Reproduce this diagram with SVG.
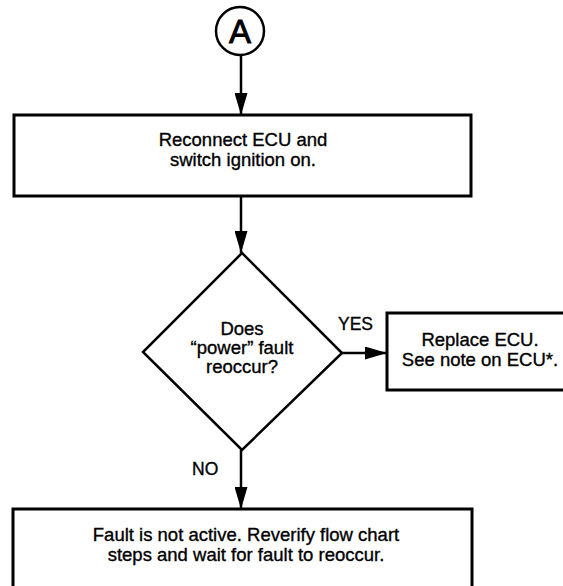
<svg xmlns="http://www.w3.org/2000/svg" width="563" height="586" viewBox="0 0 563 586">
<style>
.box{fill:#fff;stroke:#000;stroke-width:3}
.dia{fill:#fff;stroke:#000;stroke-width:2.5}
.t{font-family:"Liberation Sans",Arial,sans-serif;font-size:18.5px;fill:#000;stroke:#000;stroke-width:0.35;text-anchor:middle}
.lbl{font-family:"Liberation Sans",Arial,sans-serif;font-size:17.5px;fill:#000;stroke:#000;stroke-width:0.35}
.ln{stroke:#000;stroke-width:2.5;fill:none}
</style>
<defs>
<marker id="ah" viewBox="0 0 10 10" refX="10" refY="5" markerWidth="22" markerHeight="13" markerUnits="userSpaceOnUse" orient="auto" preserveAspectRatio="none">
<path d="M0,0 L10,5 L0,10 Z" fill="#000"/>
</marker>
</defs>
<rect width="563" height="586" fill="#fff"/>
<g id="connectors">
<line class="ln" x1="241" y1="55" x2="241" y2="115" marker-end="url(#ah)"/>
<line class="ln" x1="241" y1="196" x2="241" y2="253" marker-end="url(#ah)"/>
<line class="ln" x1="342" y1="353" x2="387" y2="353" marker-end="url(#ah)"/>
<line class="ln" x1="241" y1="450" x2="241" y2="509" marker-end="url(#ah)"/>
</g>
<g id="start">
<circle cx="240" cy="31" r="24" fill="#fff" stroke="#000" stroke-width="2.5"/>
<text x="240" y="43" class="t" style="font-size:33px;stroke-width:0.9">A</text>
</g>
<g id="reconnect">
<rect class="box" x="14" y="115" width="457" height="81"/>
<text class="t" x="243" y="146">Reconnect ECU and</text>
<text class="t" x="243" y="165.5">switch ignition on.</text>
</g>
<g id="decision">
<polygon class="dia" points="242,253 342,353 242,450 143,352"/>
<text class="t" x="242" y="335">Does</text>
<text class="t" x="242" y="354">“power” fault</text>
<text class="t" x="242" y="373">reoccur?</text>
</g>
<g id="labels">
<text class="lbl" x="338" y="330">YES</text>
<text class="lbl" x="192" y="475">NO</text>
</g>
<g id="replace">
<rect class="box" x="387" y="313" width="190" height="77"/>
<text class="t" x="480" y="346">Replace ECU.</text>
<text class="t" x="480" y="365.5">See note on ECU*.</text>
</g>
<g id="fault">
<rect class="box" x="13" y="509" width="459" height="100"/>
<text class="t" x="246" y="541">Fault is not active. Reverify flow chart</text>
<text class="t" x="246" y="560.5">steps and wait for fault to reoccur.</text>
</g>
</svg>
